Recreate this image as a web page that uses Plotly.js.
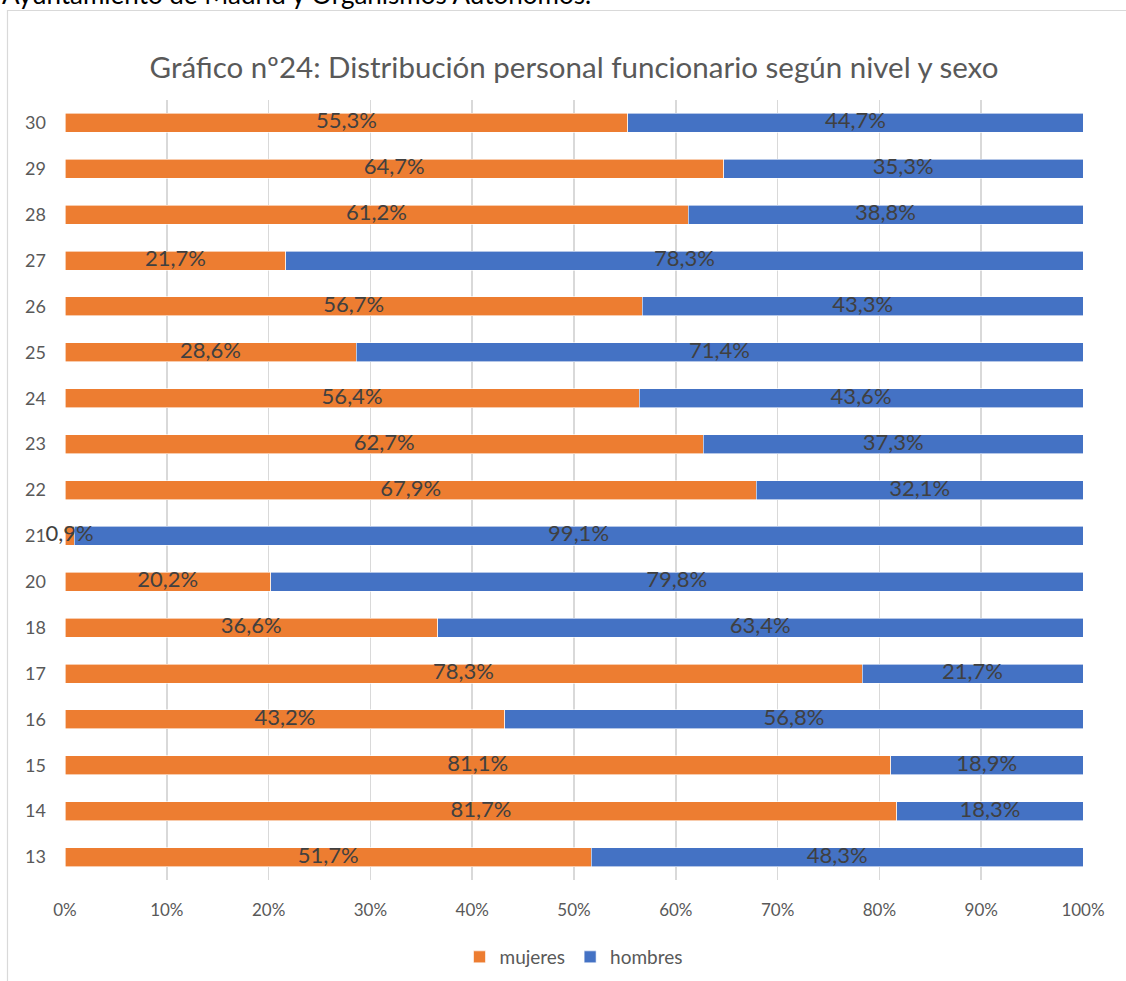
<!DOCTYPE html>
<html>
<head>
<meta charset="utf-8">
<script src="https://cdn.plot.ly/plotly-3.0.1.min.js"></script>
<style>
html,body{margin:0;padding:0;background:#fff;overflow:hidden;}
#chart{width:1126px;height:981px;}
</style>
</head>
<body>
<div id="chart"></div>
<script>
const niveles = ['13','14','15','16','17','18','20','21','22','23','24','25','26','27','28','29','30'];
const mujeres = [51.7,81.7,81.1,43.2,78.3,36.6,20.2,0.9,67.9,62.7,56.4,28.6,56.7,21.7,61.2,64.7,55.3];
const hombres = [48.3,18.3,18.9,56.8,21.7,63.4,79.8,99.1,32.1,37.3,43.6,71.4,43.3,78.3,38.8,35.3,44.7];
const serieNames = ['mujeres','hombres'];
const xTicks = [0,10,20,30,40,50,60,70,80,90,100];

const fmt = v => v.toFixed(1).replace('.', ',') + '%';
const FONT = 'Lato, "Open Sans", sans-serif';

const barCommon = {
  type: 'bar',
  orientation: 'h',
  y: niveles,
  hoverinfo: 'x+y+name'
};

const labelCommon = {
  type: 'scatter',
  mode: 'text',
  y: niveles,
  textposition: 'middle center',
  textfont: {family: FONT, size: 22, color: '#404040'},
  cliponaxis: false,
  showlegend: false,
  hoverinfo: 'skip'
};

const traces = [
  Object.assign({}, barCommon, {
    name: serieNames[0], x: mujeres,
    marker: {color: '#ED7D31', line: {color: '#ffffff', width: 0.6}}
  }),
  Object.assign({}, barCommon, {
    name: serieNames[1], x: hombres,
    marker: {color: '#4472C4', line: {color: '#ffffff', width: 0.6}}
  }),
  Object.assign({}, labelCommon, {
    x: mujeres.map(v => v / 2),
    text: mujeres.map(fmt)
  }),
  Object.assign({}, labelCommon, {
    x: hombres.map((v, i) => mujeres[i] + v / 2),
    text: hombres.map(fmt)
  })
];

const L = 65, R = 43, T = 100, B = 101;
const W = 1126, H = 981;
const pw = W - L - R, ph = H - T - B;
const px2x = p => (p - L) / pw;
const px2y = p => (H - B - p) / ph;

const layout = {
  width: W, height: H,
  margin: {l: L, r: R, t: T, b: B, autoexpand: false},
  barmode: 'stack',
  bargap: 0.586,
  paper_bgcolor: '#ffffff',
  plot_bgcolor: '#ffffff',
  font: {family: FONT, color: '#595959'},
  title: {
    text: 'Gráfico nº24: Distribución personal funcionario según nivel y sexo',
    font: {family: FONT, size: 29.5, color: '#595959'},
    x: 0.5, xanchor: 'center', xref: 'paper',
    y: 1 - 68 / H, yanchor: 'middle', yref: 'container'
  },
  xaxis: {
    range: [0, 100],
    tickvals: xTicks,
    ticktext: xTicks.map(v => v + '%'),
    showgrid: true, gridcolor: '#d9d9d9', gridwidth: 1.5,
    zeroline: false, showline: false,
    ticks: '', ticklen: 0,
    ticklabelstandoff: 18,
    tickfont: {family: FONT, size: 17, color: '#595959'},
    fixedrange: true
  },
  yaxis: {
    type: 'category',
    categoryorder: 'array', categoryarray: niveles,
    range: [-0.5, niveles.length - 0.5],
    showgrid: false, zeroline: false, showline: false,
    ticks: '', ticklabelstandoff: 18,
    tickfont: {family: FONT, size: 18, color: '#595959'},
    fixedrange: true
  },
  legend: {
    orientation: 'h',
    x: 0.5, xanchor: 'center', xref: 'paper',
    y: 1 - 957 / H, yanchor: 'middle', yref: 'container',
    font: {family: FONT, size: 19, color: '#595959'},
    traceorder: 'normal',
    itemwidth: 30
  },
  shapes: [{
    type: 'rect', xref: 'paper', yref: 'paper',
    x0: px2x(7.5), x1: px2x(1140), y0: px2y(1000), y1: px2y(10.5),
    line: {color: '#d9d9d9', width: 1.2}, fillcolor: 'rgba(0,0,0,0)', layer: 'below'
  }],
  annotations: [{
    text: 'Ayuntamiento de Madrid y Organismos Autónomos.',
    xref: 'paper', yref: 'paper',
    x: px2x(0), xanchor: 'left',
    y: px2y(-6), yanchor: 'middle',
    showarrow: false,
    font: {family: FONT, size: 26, color: '#000000'}
  }]
};

Plotly.newPlot('chart', traces, layout, {displayModeBar: false, staticPlot: true});
</script>
</body>
</html>
